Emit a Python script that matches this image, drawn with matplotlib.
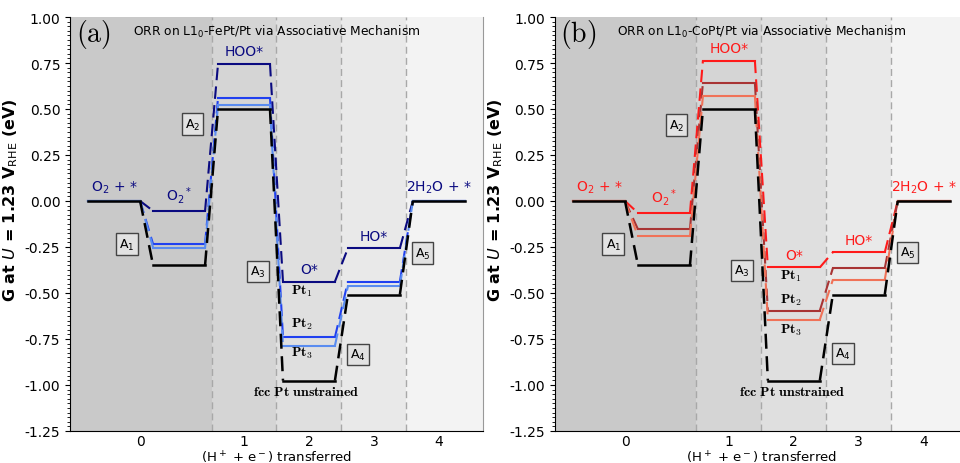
import matplotlib
matplotlib.use('Agg')
import matplotlib.pyplot as plt
from matplotlib.ticker import MultipleLocator, FixedLocator

# reaction steps and x ticks
steps = ['O$_2$ + *', 'O$_2$$^*$', 'HOO*', 'O*', 'HO*', '2H$_2$O + *']
tick_pos = [0.4, 2, 3, 4, 5]
tick_lab = ['0', '1', '2', '3', '4']

# free energies (eV) at U = 1.23 V
pt_fcc = [0.0, -0.35, 0.50, -0.976, -0.509, 0.0]
fept_pt1 = [0.0, -0.054, 0.745, -0.438, -0.257, 0.0]
fept_pt2 = [0.0, -0.235, 0.561, -0.741, -0.438, 0.0]
fept_pt3 = [0.0, -0.254, 0.522, -0.786, -0.464, 0.0]
copt_pt1 = [0.0, -0.065, 0.763, -0.361, -0.279, 0.0]
copt_pt2 = [0.0, -0.154, 0.643, -0.596, -0.366, 0.0]
copt_pt3 = [0.0, -0.192, 0.571, -0.645, -0.429, 0.0]

fept_cols = ['#0a0a80', '#2040f0', '#5a8cf0']
copt_cols = ['#ff1a1a', '#a83434', '#f07258']

# annotation spots (x, G)
fept_pt_xy = [(2.89, -0.487), (2.89, -0.663), (2.89, -0.82), (2.95, -1.033)]
copt_pt_xy = [(2.96, -0.406), (2.96, -0.533), (2.96, -0.696), (2.97, -1.033)]
fept_a_xy = [(0.2, -0.234), (1.21, 0.418), (2.21, -0.384), (3.75, -0.833), (4.75, -0.283)]
copt_a_xy = [(0.22, -0.234), (1.19, 0.413), (2.2, -0.378), (3.76, -0.83), (4.75, -0.28)]

xlim = (-0.68, 5.68)
bounds = [xlim[0], 1.5, 2.5, 3.5, 4.5, xlim[1]]
shades = ['#c9c9c9', '#d5d5d5', '#dfdfdf', '#e9e9e9', '#f3f3f3']

panels = [
    ('(a)', 'ORR on L1$_0$-FePt/Pt via Associative Mechanism',
     [fept_pt1, fept_pt2, fept_pt3], fept_cols, fept_pt_xy, fept_a_xy),
    ('(b)', 'ORR on L1$_0$-CoPt/Pt via Associative Mechanism',
     [copt_pt1, copt_pt2, copt_pt3], copt_cols, copt_pt_xy, copt_a_xy),
]

fig = plt.figure(figsize=(9.6, 4.64), dpi=100)
ax_a = fig.add_axes([0.0729, 0.069, 0.4302, 0.8922])
ax_b = fig.add_axes([0.578, 0.069, 0.4302, 0.8922])

for ax, (tag, title, series, cols, pt_xy, a_xy) in zip([ax_a, ax_b], panels):
    for k in range(5):
        ax.axvspan(bounds[k], bounds[k + 1], color=shades[k], lw=0, zorder=0)
        if k > 0:
            ax.axvline(bounds[k], color='#a8a8a8', ls=(0, (5, 3)), lw=1, zorder=1)

    for g, c in zip(series + [pt_fcc], cols + ['black']):
        lw = 1.8 if c == 'black' else 1.5
        for i in range(len(g)):
            ax.plot([i - 0.4, i + 0.4], [g[i], g[i]], color=c, lw=lw, zorder=3)
            if i < len(g) - 1:
                ax.plot([i + 0.4, i + 0.6], [g[i], g[i + 1]], color=c, lw=lw,
                        ls=(0, (6, 3)), zorder=3)

    # step names above the top level
    top = series[0]
    for i, s in enumerate(steps):
        ax.text(i, top[i] + 0.03, s, color=cols[0], fontsize=10, ha='center', va='bottom')

    pt_names = [r'$\mathbf{Pt_1}$', r'$\mathbf{Pt_2}$', r'$\mathbf{Pt_3}$',
                r'$\mathbf{fcc\ Pt\ unstrained}$']
    for (x, y), s in zip(pt_xy, pt_names):
        ax.text(x, y, s, fontsize=10, ha='center', va='center', math_fontfamily='cm')

    for k, (x, y) in enumerate(a_xy):
        ax.text(x, y, 'A$_%d$' % (k + 1), fontsize=9, ha='center', va='center',
                bbox=dict(boxstyle='square,pad=0.25', fc='#e2e2e2', ec='#444444', lw=1))

    ax.text(0.5, 0.967, title, transform=ax.transAxes, fontsize=8.8, ha='center', va='center')
    ax.text(0.056, 0.959, r'$\mathrm{%s}$' % tag, transform=ax.transAxes, fontsize=20,
            ha='center', va='center', math_fontfamily='cm')

    ax.set_xlim(*xlim)
    ax.set_ylim(-1.25, 1.0)
    ax.yaxis.set_major_locator(MultipleLocator(0.25))
    ax.yaxis.set_minor_locator(MultipleLocator(0.025))
    ax.yaxis.set_major_formatter(plt.FormatStrFormatter('%.2f'))
    ax.xaxis.set_major_locator(FixedLocator(tick_pos))
    ax.set_xticklabels(tick_lab)
    ax.tick_params(axis='x', length=0, labelsize=10, pad=2.5)
    ax.tick_params(axis='y', which='major', length=3.5, labelsize=10)
    ax.tick_params(axis='y', which='minor', length=2)
    ax.spines['top'].set_visible(False)
    ax.spines['right'].set_color('#999999')
    ax.set_xlabel('(H$^+$ + e$^-$) transferred', fontsize=9.5, labelpad=0)
    ax.set_ylabel('G at $U$ = 1.23 V$_{\\mathrm{RHE}}$ (eV)', fontsize=11.5,
                  fontweight='bold', y=0.56, labelpad=3)

fig.savefig('out.png', dpi=100)
